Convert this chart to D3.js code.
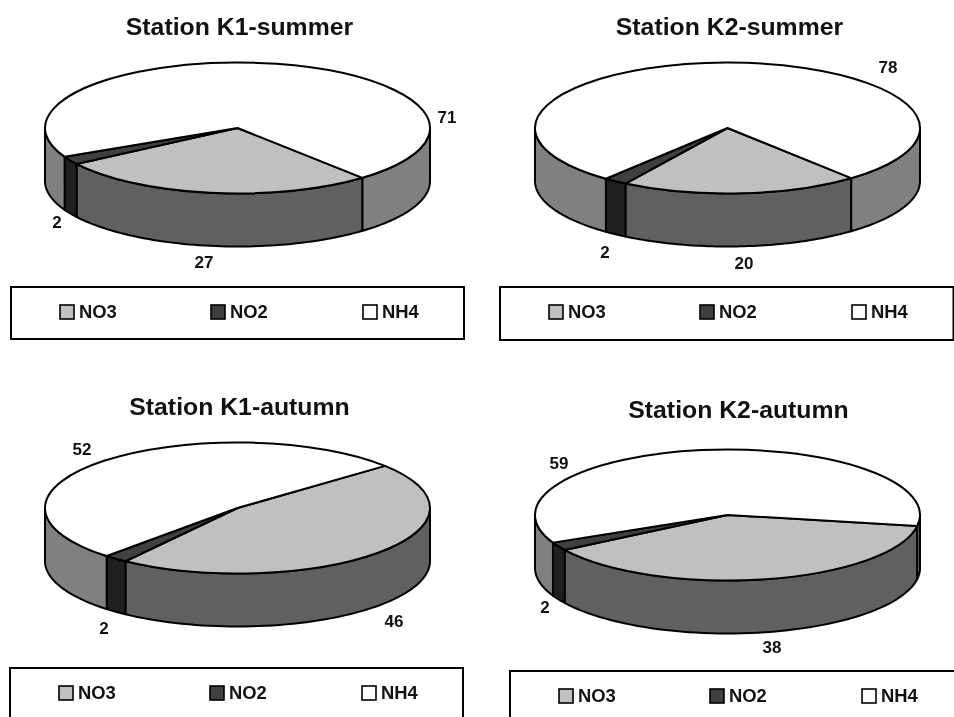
<!DOCTYPE html>
<html>
<head>
<meta charset="utf-8">
<script src="https://cdn.jsdelivr.net/npm/d3@7"></script>
<style>
  html, body { margin: 0; padding: 0; background: #fff; overflow: hidden; }
  svg { display: block; filter: blur(0.35px); }
  text { font-family: "Liberation Sans", Arial, sans-serif; font-weight: bold; fill: #111; }
</style>
</head>
<body>
<div id="chart"></div>
<script>
// Valeurs (%)
const seriesNames = ['NO3', 'NO2', 'NH4']
const panelTitles = ['Station K1-summer', 'Station K2-summer', 'Station K1-autumn', 'Station K2-autumn']
const no3Values = [27, 20, 46, 38]
const no2Values = [2, 2, 2, 2]
const nh4Values = [71, 78, 52, 59]

// Couleurs : dessus du disque / tranche
const topColors = ['#c0c0c0', '#404040', '#ffffff']
const sideColors = ['#606060', '#202020', '#808080']

// Mise en page de chaque panneau, à part des données
const panelLayout = [
  { cx: 237.5, cy: 128, titleX: 239.5, titleY: 35, rotation: 139.5, legendX: 11, legendY: 287, legendW: 453, legendH: 52,
    labels: [[204, 262], [57, 222], [447, 117]] },
  { cx: 727.5, cy: 128, titleX: 729.5, titleY: 35, rotation: 140, legendX: 500, legendY: 287, legendW: 453.5, legendH: 53,
    labels: [[744, 263], [605, 252], [888, 67]] },
  { cx: 237.5, cy: 508, titleX: 239.5, titleY: 415, rotation: 50, legendX: 10, legendY: 668, legendW: 453, legendH: 60,
    labels: [[394, 621], [104, 628], [82, 449]] },
  { cx: 727.5, cy: 515, titleX: 738.5, titleY: 418, rotation: 99.6, legendX: 510, legendY: 671, legendW: 460, legendH: 60,
    labels: [[772, 647], [545, 607], [559, 463]] },
]

const rx = 192.5
const ry = 65.5
const depth = 53
const legendOffsets = [49, 200, 352]

const width = 954
const height = 717

const svg = d3.select('#chart')
  .append('svg')
  .attr('width', width)
  .attr('height', height)

const pie = d3.pie().sort(null).value(d => d)
const arc = d3.arc().innerRadius(0).outerRadius(rx)
const rad = Math.PI / 180

// Point du bord de l'ellipse pour un angle d3 (0 = midi, sens horaire)
const rim = a => [rx * Math.sin(a), -ry * Math.cos(a)]

// Parties visibles (moitié basse, PI/2..3PI/2) d'une tranche
function visibleParts(a0, a1) {
  const parts = []
  for (let k = -1; k <= 2; k++) {
    const lo = Math.max(a0, Math.PI / 2 + 2 * Math.PI * k)
    const hi = Math.min(a1, 3 * Math.PI / 2 + 2 * Math.PI * k)
    if (hi > lo) parts.push([lo, hi])
  }
  return parts
}

function sidePath(lo, hi) {
  const n = 60
  const steps = d3.range(n + 1).map(i => lo + (hi - lo) * i / n)
  const front = steps.map(rim)
  const back = steps.slice().reverse().map(a => {
    const p = rim(a)
    return [p[0], p[1] + depth]
  })
  return d3.line()(front.concat(back)) + 'Z'
}

panelTitles.forEach((title, p) => {
  const layout = panelLayout[p]
  const values = [no3Values[p], no2Values[p], nh4Values[p]]
  const start = layout.rotation * rad
  const slices = pie.startAngle(start).endAngle(start + 2 * Math.PI)(values)

  svg.append('text')
    .attr('x', layout.titleX).attr('y', layout.titleY)
    .attr('text-anchor', 'middle')
    .attr('font-size', 24.8)
    .text(title)

  const g = svg.append('g')
    .attr('transform', `translate(${layout.cx},${layout.cy})`)

  // Tranche du disque, dessous du dessus
  slices.forEach((s, i) => {
    visibleParts(s.startAngle, s.endAngle).forEach(([lo, hi]) => {
      g.append('path')
        .attr('d', sidePath(lo, hi))
        .attr('fill', sideColors[i])
        .attr('stroke', '#000')
        .attr('stroke-width', 2)
        .attr('stroke-linejoin', 'round')
    })
  })

  // Dessus : d3.arc écrasé en ellipse
  g.append('g')
    .attr('transform', `scale(1,${ry / rx})`)
    .selectAll('path')
    .data(slices)
    .join('path')
    .attr('d', arc)
    .attr('fill', (d, i) => topColors[i])
    .attr('stroke', '#000')
    .attr('stroke-width', 2)
    .attr('vector-effect', 'non-scaling-stroke')
    .attr('stroke-linejoin', 'round')

  // Étiquettes de valeur
  values.forEach((v, i) => {
    svg.append('text')
      .attr('x', layout.labels[i][0]).attr('y', layout.labels[i][1] + 6)
      .attr('text-anchor', 'middle')
      .attr('font-size', 17)
      .text(v)
  })

  // Légende
  svg.append('rect')
    .attr('x', layout.legendX).attr('y', layout.legendY)
    .attr('width', layout.legendW).attr('height', layout.legendH)
    .attr('fill', '#fff')
    .attr('stroke', '#000')
    .attr('stroke-width', 2)

  seriesNames.forEach((name, i) => {
    const sx = layout.legendX + legendOffsets[i]
    svg.append('rect')
      .attr('x', sx).attr('y', layout.legendY + 18)
      .attr('width', 14).attr('height', 14)
      .attr('fill', topColors[i])
      .attr('stroke', '#000')
      .attr('stroke-width', 1.6)
    svg.append('text')
      .attr('x', sx + 19).attr('y', layout.legendY + 31)
      .attr('font-size', 18.4)
      .text(name)
  })
})
</script>
</body>
</html>
